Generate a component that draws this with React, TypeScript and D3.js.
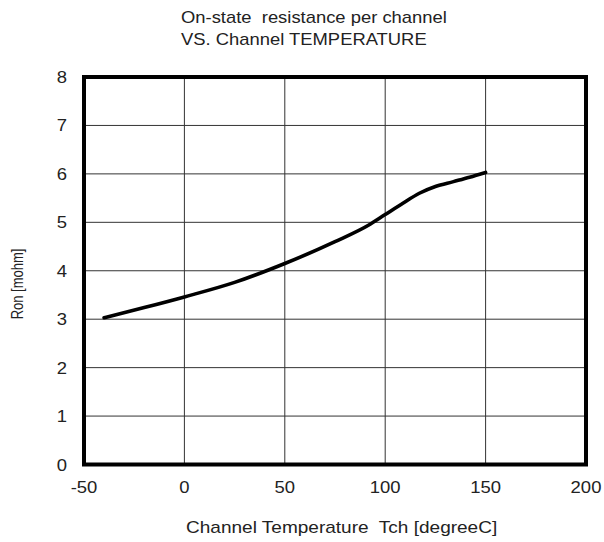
import React from "react";
import * as d3 from "d3";

const temps = [-40, -20, 0, 25, 50, 75, 92.5, 100, 109, 117, 125, 134, 142, 150];
const ron = [3.03, 3.24, 3.46, 3.76, 4.15, 4.6, 4.96, 5.16, 5.4, 5.6, 5.74, 5.84, 5.93, 6.03];
const xTicks = [-50, 0, 50, 100, 150, 200];
const yTicks = [0, 1, 2, 3, 4, 5, 6, 7, 8];
const titleLines = ["On-state  resistance per channel", "VS. Channel TEMPERATURE"];
const xTitle = "Channel Temperature  Tch [degreeC]";
const yTitle = "Ron [mohm]";

const W = 604;
const H = 542;
const plot = { left: 84, right: 586, top: 77, bottom: 464.5 };
const FONT = "'Liberation Sans', Arial, sans-serif";
const SX = 1.12;

export default function App() {
  const x = d3.scaleLinear().domain([-50, 200]).range([plot.left, plot.right]);
  const y = d3.scaleLinear().domain([0, 8]).range([plot.bottom, plot.top]);
  const pts: [number, number][] = temps.map((t, i) => [t, ron[i]]);
  const line = d3
    .line<[number, number]>()
    .x((d) => x(d[0]))
    .y((d) => y(d[1]))
    .curve(d3.curveMonotoneX);

  return (
    <svg
      width={W}
      height={H}
      style={{ position: "absolute", left: 0, top: 0, background: "#fff" }}
      fontFamily={FONT}
    >
      <rect x={0} y={0} width={W} height={H} fill="#fff" />
      {/* title */}
      {titleLines.map((t, i) => (
        <g key={t} transform={`translate(181,${23 + i * 22}) scale(1.15,1)`}>
          <text x={0} y={0} fontSize={16} fill="#222" style={{ whiteSpace: "pre" }}>
            {t}
          </text>
        </g>
      ))}
      {/* grid */}
      {xTicks.slice(1, -1).map((t) => (
        <line key={"gx" + t} x1={x(t)} x2={x(t)} y1={plot.top} y2={plot.bottom} stroke="#333" strokeWidth={1} />
      ))}
      {yTicks.slice(1, -1).map((t) => (
        <line key={"gy" + t} x1={plot.left} x2={plot.right} y1={y(t)} y2={y(t)} stroke="#333" strokeWidth={1} />
      ))}
      {/* curve */}
      <path d={line(pts) || ""} fill="none" stroke="#000" strokeWidth={3.6} strokeLinecap="round" strokeLinejoin="round" />
      {/* frame */}
      <rect
        x={plot.left}
        y={plot.top}
        width={plot.right - plot.left}
        height={plot.bottom - plot.top}
        fill="none"
        stroke="#000"
        strokeWidth={4}
      />
      {/* y tick labels */}
      {yTicks.map((t) => (
        <g key={"yl" + t} transform={`translate(67,${y(t) + 6}) scale(${SX},1)`}>
          <text x={0} y={0} textAnchor="end" fontSize={16.5} fill="#222">
            {t}
          </text>
        </g>
      ))}
      {/* x tick labels */}
      {xTicks.map((t) => (
        <g key={"xl" + t} transform={`translate(${x(t)},${493}) scale(${SX},1)`}>
          <text x={0} y={0} textAnchor="middle" fontSize={16.5} fill="#222">
            {t}
          </text>
        </g>
      ))}
      {/* axis titles */}
      <g transform={`translate(186,533) scale(${SX},1)`}>
        <text x={0} y={0} fontSize={17} fill="#222" style={{ whiteSpace: "pre" }}>
          {xTitle}
        </text>
      </g>
      <g transform={`translate(23,284) scale(1.25,1) rotate(-90)`}>
        <text x={0} y={0} textAnchor="middle" fontSize={13} fill="#222">
          {yTitle}
        </text>
      </g>
    </svg>
  );
}
